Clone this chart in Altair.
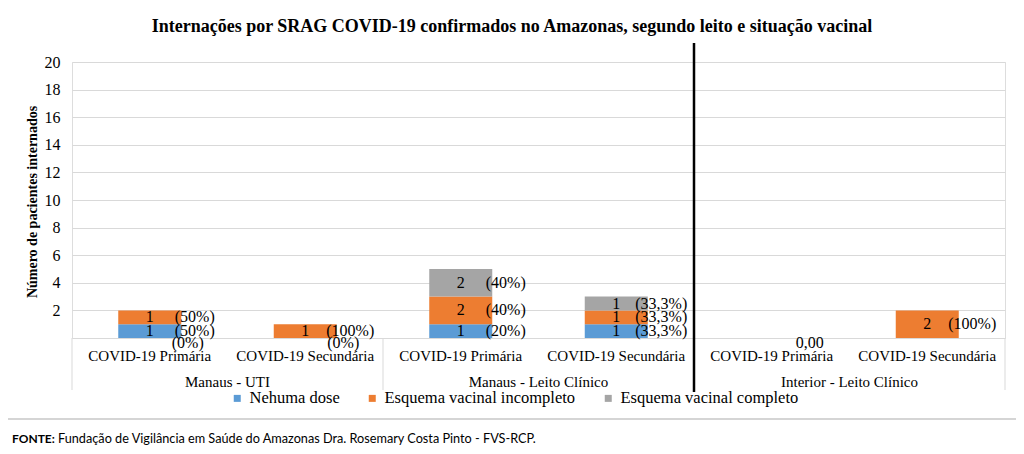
import altair as alt
import pandas as pd

SERIF = "Times New Roman, Liberation Serif, serif"
SANS = "Lato, sans-serif"

titulo = "Internações por SRAG COVID-19 confirmados no Amazonas, segundo leito e situação vacinal"
titulo_y = "Número de pacientes internados"
fonte_bold = "FONTE:"
fonte_txt = "Fundação de Vigilância em Saúde do Amazonas Dra. Rosemary Costa Pinto - FVS-RCP."

grupos = ["Manaus - UTI", "Manaus - Leito Clínico", "Interior - Leito Clínico"]
tipos = ["COVID-19 Primária", "COVID-19 Secundária"]
series = ["Nehuma dose", "Esquema vacinal incompleto", "Esquema vacinal completo"]
cores = ["#5B9BD5", "#ED7D31", "#A5A5A5"]

nenhuma_dose = [1, 0, 1, 1, 0, 0]
incompleto = [1, 1, 2, 1, 0, 2]
completo = [0, 0, 2, 1, 0, 0]

pct_nenhuma = ["(50%)", "(0%)", "(20%)", "(33,3%)", "0,00", ""]
pct_incompleto = ["(50%)", "(100%)", "(40%)", "(33,3%)", "", "(100%)"]
pct_completo = ["(0%)", "", "(40%)", "(33,3%)", "", ""]

y_ticks = [2, 4, 6, 8, 10, 12, 14, 16, 18, 20]

rows = []
cats = []
for gi, g in enumerate(grupos):
    for ti, t in enumerate(tipos):
        i = gi * 2 + ti
        cat = f"{g}|{t}"
        cats.append(cat)
        for k, (s, vals, pcts) in enumerate(zip(series, [nenhuma_dose, incompleto, completo],
                                                 [pct_nenhuma, pct_incompleto, pct_completo])):
            rows.append(dict(cat=cat, grupo=g, tipo=t, serie=s, ordem=k, valor=vals[i],
                             pct=pcts[i], primeiro=(ti == 0), ultimo=(i == len(grupos) * 2 - 1)))
df = pd.DataFrame(rows)

W, H = 933, 276
xs = alt.Scale(domain=cats, paddingInner=0, paddingOuter=0)
ys = alt.Scale(domain=[0, 20], nice=False)

y_axis = alt.Axis(values=y_ticks, tickCount=len(y_ticks), grid=True, gridColor="#d9d9d9",
                  gridOpacity=1, domain=False, ticks=False, labelOverlap=False,
                  labelFont=SERIF, labelFontSize=16, labelPadding=12, labelColor="black")

base = alt.Chart(df)
stacked = base.transform_stack(
    stack="valor", groupby=["cat"], as_=["y0", "y1"], sort=[alt.SortField("ordem")]
).transform_calculate(ymid="(datum.y0 + datum.y1) / 2")

bars = stacked.transform_filter("datum.valor > 0").mark_bar(size=63).encode(
    x=alt.X("cat:N", scale=xs, title=None,
            axis=alt.Axis(labelExpr="split(datum.label, '|')[1]", labelAngle=0, labelFont=SERIF,
                          labelFontSize=15, labelColor="black", ticks=False, domainColor="#d9d9d9",
                          labelPadding=10, labelLimit=0)),
    y=alt.Y("y0:Q", scale=ys, title=None, axis=y_axis),
    y2="y1:Q",
    color=alt.Color("serie:N", title=None, scale=alt.Scale(domain=series, range=cores),
                    legend=alt.Legend(orient="none", legendX=157, legendY=328, direction="horizontal",
                                      symbolType="square", symbolSize=49, symbolStrokeWidth=0,
                                      labelFont=SERIF, labelFontSize=16.5, labelColor="black",
                                      labelLimit=0, columnPadding=24, labelOffset=4)),
    order=alt.Order("ordem:Q"),
)

val_labels = stacked.transform_filter("datum.valor > 0").mark_text(
    font=SERIF, fontSize=16, color="black", baseline="middle"
).encode(x=alt.X("cat:N", scale=xs, title=None), y=alt.Y("ymid:Q", scale=ys, title=None, axis=y_axis),
         text="valor:Q")

pct_labels = stacked.transform_filter("datum.valor > 0 && datum.pct != ''").mark_text(
    font=SERIF, fontSize=16, color="black", baseline="middle", dx=45
).encode(x=alt.X("cat:N", scale=xs, title=None), y=alt.Y("ymid:Q", scale=ys, title=None, axis=y_axis),
         text="pct:N")

zero_labels = base.transform_filter("datum.valor == 0 && datum.pct != ''").transform_calculate(
    zero="0"
).mark_text(font=SERIF, fontSize=16, color="black", baseline="middle", dx=38, dy=5).encode(
    x=alt.X("cat:N", scale=xs, title=None), y=alt.Y("zero:Q", scale=ys, title=None, axis=y_axis),
    text="pct:N")

sep_left = base.transform_filter("datum.primeiro && datum.ordem == 0").mark_rule(
    color="#d9d9d9", strokeWidth=1
).encode(x=alt.X("cat:N", scale=xs, title=None, bandPosition=0), y=alt.value(H), y2=alt.value(H + 52))

sep_right = base.transform_filter("datum.ultimo && datum.ordem == 0").mark_rule(
    color="#d9d9d9", strokeWidth=1
).encode(x=alt.X("cat:N", scale=xs, title=None, bandPosition=1), y=alt.value(H), y2=alt.value(H + 52))

thick = base.transform_filter(
    f"datum.grupo == '{grupos[2]}' && datum.primeiro && datum.ordem == 0"
).mark_rule(color="black", strokeWidth=2.5).encode(
    x=alt.X("cat:N", scale=xs, title=None, bandPosition=0), y=alt.value(-19), y2=alt.value(H + 54))

group_labels = base.transform_filter("datum.primeiro && datum.ordem == 0").mark_text(
    font=SERIF, fontSize=15, color="black", baseline="middle"
).encode(x=alt.X("cat:N", scale=xs, title=None, bandPosition=1), y=alt.value(H + 44), text="grupo:N")

one = pd.DataFrame({"t": [titulo], "yt": [titulo_y], "fb": [fonte_bold], "ft": [fonte_txt]})
c1 = alt.Chart(one)
title_m = c1.mark_text(font=SERIF, fontSize=18, fontWeight="bold", color="black",
                       baseline="middle", align="center").encode(
    x=alt.value(440), y=alt.value(-35), text="t:N")
ytitle_m = c1.mark_text(font=SERIF, fontSize=14, fontWeight="bold", color="black",
                        baseline="middle", align="center", angle=270).encode(
    x=alt.value(-39), y=alt.value(140), text="yt:N")
fonte_b = c1.mark_text(font=SANS, fontSize=12, fontWeight="bold", color="black",
                       baseline="middle", align="left").encode(
    x=alt.value(-60), y=alt.value(377), text="fb:N")
fonte_t = c1.mark_text(font=SANS, fontSize=12.7, color="black",
                       baseline="middle", align="left").encode(
    x=alt.value(-14), y=alt.value(377), text="ft:N")
border = c1.mark_rect(fillOpacity=0, stroke="#c8c8c8", strokeWidth=1.5).encode(
    x=alt.value(-68), x2=alt.value(947), y=alt.value(-58), y2=alt.value(357))

chart = alt.layer(
    border, bars, val_labels, pct_labels, zero_labels, sep_left, sep_right, thick,
    group_labels, title_m, ytitle_m, fonte_b, fonte_t
).properties(
    width=W, height=H, autosize=alt.AutoSizeParams(type="none"),
    padding={"left": 64, "top": 54, "right": 11, "bottom": 108}
).configure_view(stroke=None).configure(background="white")

chart.save("out.html", embed_options={"renderer": "svg", "actions": False})
